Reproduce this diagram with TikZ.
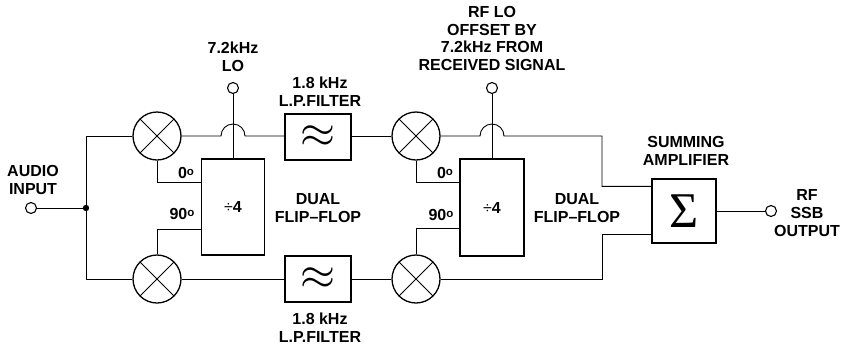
\documentclass[tikz,border=0pt]{standalone}
\usepackage{fontspec}
\usepackage{graphicx}
\setmainfont{Liberation Sans}
\newfontfamily\sigfont{Liberation Serif}
\usetikzlibrary{calc}
\begin{document}
\begin{tikzpicture}[x=1pt,y=1pt,yscale=-1,
 wire/.style={line width=0.9pt},
 mixer/.style={circle,draw,line width=1.3pt,minimum size=48pt,inner sep=0pt,
   path picture={\draw[line width=0.8pt] (path picture bounding box.north west)--(path picture bounding box.south east) (path picture bounding box.north east)--(path picture bounding box.south west);}},
 blk/.style={rectangle,draw,line width=1.3pt,inner sep=0pt},
 term/.style={circle,draw,line width=1.1pt,minimum size=11pt,inner sep=0pt},
 lbl/.style={font=\fontsize{16}{17.6}\selectfont\bfseries,align=center,inner sep=0pt},
 deg/.style={font=\fontsize{16}{17.6}\selectfont\bfseries,inner sep=0pt},
]
\useasboundingbox (0,0) rectangle (841,349);

% terminals
\node[term] (audio) at (31,208) {};
\node[term] (lo) at (233,88) {};
\node[term] (rflo) at (492,88) {};
\node[term] (out) at (771,211) {};
\coordinate (jn) at (86,208);
\fill (jn) circle[radius=3.2];

% mixers
\node[mixer] (mixTL) at (157,136) {};
\node[mixer] (mixBL) at (157,279) {};
\node[mixer] (mixTR) at (416,136) {};
\node[mixer] (mixBR) at (416,279) {};

% filters
\node[blk,minimum width=66pt,minimum height=46pt] (fltT) at (318,137) {\scalebox{4.5}{$\approx$}};
\node[blk,minimum width=66pt,minimum height=46pt] (fltB) at (318,279) {\scalebox{4.5}{$\approx$}};

% dividers
\node[blk,minimum width=63pt,minimum height=96pt,font=\fontsize{16}{17.6}\selectfont\bfseries] (divL) at (233,207) {{\mdseries ÷}4};
\node[blk,minimum width=64pt,minimum height=97pt,font=\fontsize{16}{17.6}\selectfont\bfseries] (divR) at (492,207.5) {{\mdseries ÷}4};

% summing amp
\node[blk,minimum width=64pt,minimum height=64pt] (sum) at (684,211) {\sigfont\fontsize{50}{50}\selectfont Σ};
\coordinate (cr) at (602,211);

% wires
\draw[wire] (audio.east) -- (jn);
\draw[wire] (jn) |- (mixTL.west);
\draw[wire] (jn) |- (mixBL.west);
\draw[wire] (mixTL.south) |- ($(divL.north west)+(0,24)$);
\draw[wire] ($(divL.north west)+(0,71)$) -| (mixBL.north);
\draw[wire] (lo.south) -- (divL.north);
\draw[wire] (mixTL.east) -- ($(divL.north |- mixTL.east)+(-12,0)$) arc[start angle=180,end angle=360,radius=12] -- (fltT.west |- mixTL.east);
\draw[wire] (fltT.east |- mixTR.west) -- (mixTR.west);
\draw[wire] (mixBL.east) -- (fltB.west);
\draw[wire] (fltB.east) -- (mixBR.west);
\draw[wire] (mixTR.south) |- ($(divR.north west)+(0,24)$);
\draw[wire] ($(divR.north west)+(0,70)$) -| (mixBR.north);
\draw[wire] (rflo.south) -- (divR.north);
\draw[wire] (mixTR.east) -- ($(divR.north |- mixTR.east)+(-12,0)$) arc[start angle=180,end angle=360,radius=12] -- (cr |- mixTR.east) |- ($(sum.north west)+(0,8)$);
\draw[wire] (mixBR.east) -- (cr |- mixBR.east) |- ($(sum.south west)+(0,-9)$);
\draw[wire] (sum.east) -- (out.west);

% labels
\node[lbl] (tAudio) at (33,180) {AUDIO\\INPUT};
\node[lbl] (tLo) at (233,57) {7.2kHz\\LO};
\node[lbl] (tFltT) at (320,91.5) {1.8 kHz\\L.P.FILTER};
\node[lbl] (tFltB) at (320,327.5) {1.8 kHz\\L.P.FILTER};
\node[lbl] (tRf) at (492,38.5) {RF LO\\OFFSET BY\\7.2kHz FROM\\RECEIVED SIGNAL};
\node[lbl] (tDualL) at (318,208) {DUAL\\FLIP--FLOP};
\node[lbl] (tDualR) at (577,208) {DUAL\\FLIP--FLOP};
\node[lbl] (tSum) at (686,151) {SUMMING\\AMPLIFIER};
\node[lbl] (tOut) at (807,213) {RF\\SSB\\OUTPUT};
\node[deg] (d0L) at (186,173) {0\raisebox{3.5pt}{\fontsize{11.5}{11.5}\selectfont o}};
\node[deg] (d90L) at (182,214) {90\raisebox{3.5pt}{\fontsize{11.5}{11.5}\selectfont o}};
\node[deg] (d0R) at (445,173) {0\raisebox{3.5pt}{\fontsize{11.5}{11.5}\selectfont o}};
\node[deg] (d90R) at (441,215) {90\raisebox{3.5pt}{\fontsize{11.5}{11.5}\selectfont o}};
\end{tikzpicture}
\end{document}
